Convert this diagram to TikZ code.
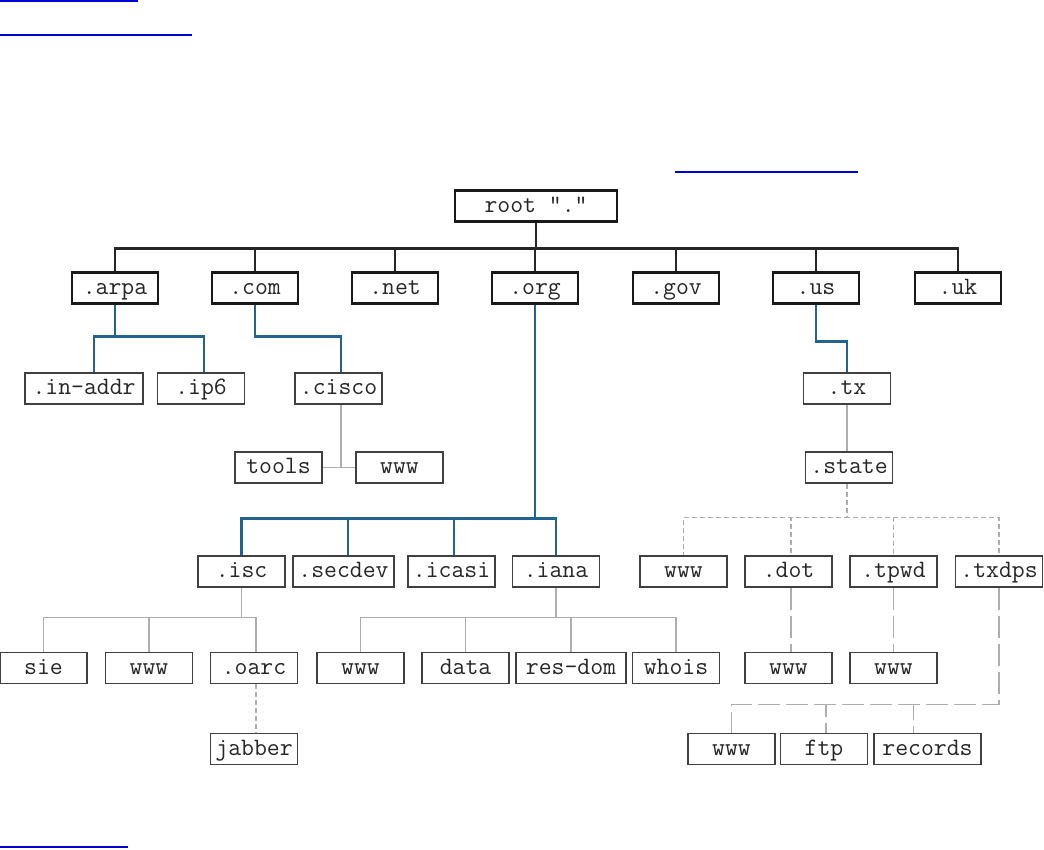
\documentclass[tikz,border=0pt]{standalone}
\usepackage{fontspec}
\definecolor{bleu}{RGB}{36,99,143}
\definecolor{lien}{RGB}{0,0,215}

\begin{document}
\begin{tikzpicture}[x=1pt, y=-1pt]
% définition des styles
\tikzstyle{racine}=[rectangle, draw=black!90, fill=white, line width=2.6pt, minimum width=86pt, minimum height=31pt, inner xsep=3pt, inner ysep=0pt, text height=15pt, text depth=3pt, text=black!85, font=\ttfamily\fontsize{25}{27}\selectfont]
\tikzstyle{domaine}=[rectangle, draw=black!75, fill=white, line width=1.5pt, minimum width=87pt, minimum height=31pt, inner xsep=3pt, inner ysep=0pt, text height=15pt, text depth=3pt, text=black!85, font=\ttfamily\fontsize{25}{27}\selectfont]
\tikzstyle{lienN}=[line width=2.6pt, color=black!85]
\tikzstyle{lienB}=[line width=2.6pt, color=bleu]
\tikzstyle{lienG}=[line width=1.4pt, color=black!32]
\tikzstyle{lienP}=[lienG, dash pattern=on 5pt off 3pt]
\tikzstyle{lienL}=[lienG, dash pattern=on 22pt off 6pt]

\useasboundingbox (0,0) rectangle (1044,849);

% les soulignés
\draw[lien, line width=1.6pt] (0,1) -- (138,1);
\draw[lien, line width=1.6pt] (0,35) -- (192,35);
\draw[lien, line width=1.2pt] (675,172) -- (858,172);
\draw[lien, line width=1.6pt] (0,847) -- (128,847);

% la racine et le premier niveau
\node[racine, minimum width=162pt] (root) at (536,206) {root "."};
\node[racine] (arpa) at (115,288) {.arpa};
\node[racine] (com) at (255,288) {.com};
\node[racine] (net) at (395,288) {.net};
\node[racine] (org) at (535,288) {.org};
\node[racine] (gov) at (676,288) {.gov};
\node[racine] (us) at (816,288) {.us};
\node[racine] (uk) at (958,288) {.uk};

% deuxième niveau
\node[domaine, minimum width=118pt] (inaddr) at (84,388.5) {.in-addr};
\node[domaine] (ip6) at (201,388.5) {.ip6};
\node[domaine] (cisco) at (338.5,388.5) {.cisco};
\node[domaine] (tx) at (847,388.5) {.tx};
\node[domaine] (tools) at (278.5,467.5) {tools};
\node[domaine] (ciscowww) at (399.5,467.5) {www};
\node[domaine] (state) at (849,467.5) {.state};

% troisième niveau
\node[domaine] (isc) at (241.5,571.5) {.isc};
\node[domaine, minimum width=101pt] (secdev) at (343.5,571.5) {.secdev};
\node[domaine] (icasi) at (451.5,571.5) {.icasi};
\node[domaine] (iana) at (556,571.5) {.iana};
\node[domaine] (statewww) at (683.5,571.5) {www};
\node[domaine] (dot) at (788.5,571.5) {.dot};
\node[domaine] (tpwd) at (893.5,571.5) {.tpwd};
\node[domaine] (txdps) at (999,571.5) {.txdps};

% quatrième niveau
\node[domaine] (sie) at (43.5,668) {sie};
\node[domaine] (iscwww) at (149,668) {www};
\node[domaine] (oarc) at (254,668) {.oarc};
\node[domaine] (ianawww) at (360.5,668) {www};
\node[domaine] (data) at (465.5,668) {data};
\node[domaine, minimum width=110pt] (resdom) at (571,668) {res-dom};
\node[domaine] (whois) at (676,668) {whois};
\node[domaine] (dotwww) at (788.5,668) {www};
\node[domaine] (tpwdwww) at (893.5,668) {www};

% cinquième niveau
\node[domaine] (jabber) at (254,749) {jabber};
\node[domaine] (txdpswww) at (731.5,749) {www};
\node[domaine] (ftp) at (824,749) {ftp};
\node[domaine, minimum width=107pt] (records) at (927.5,749) {records};

% les traits noirs
\draw[lienN] (root.south) -- ++(0,25.5) -| (arpa.north);
\draw[lienN] (root.south) -- ++(0,25.5) -| (com.north);
\draw[lienN] (root.south) -- ++(0,25.5) -| (net.north);
\draw[lienN] (root.south) -- ++(0,25.5) -| (org.north);
\draw[lienN] (root.south) -- ++(0,25.5) -| (gov.north);
\draw[lienN] (root.south) -- ++(0,25.5) -| (us.north);
\draw[lienN] (root.south) -- ++(0,25.5) -| (uk.north);

% les traits bleus
\draw[lienB] (arpa.south) -- ++(0,31.5) -| ([xshift=10pt]inaddr.north);
\draw[lienB] (arpa.south) -- ++(0,31.5) -| ([xshift=3pt]ip6.north);
\draw[lienB] (com.south) -- ++(0,31.5) -| ([xshift=2.5pt]cisco.north);
\draw[lienB] (us.south) -- ++(0,36.5) -| (tx.north);
\draw[lienB] (org.south) -- ++(0,213.5) -| (isc.north);
\draw[lienB] (org.south) -- ++(0,213.5) -| ([xshift=4.5pt]secdev.north);
\draw[lienB] (org.south) -- ++(0,213.5) -| ([xshift=2.5pt]icasi.north);
\draw[lienB] (org.south) -- ++(0,213.5) -| (iana.north);

% les traits gris
\draw[lienG] ([xshift=2.5pt]cisco.south) |- (tools.east);
\draw[lienG] ([xshift=2.5pt]cisco.south) |- (ciscowww.west);
\draw[lienG] (tx.south) -- (tx.south |- state.north);
\draw[lienG] (isc.south) -- ++(0,29.5) -| (sie.north);
\draw[lienG] (isc.south) -- ++(0,29.5) -| (iscwww.north);
\draw[lienG] (isc.south) -- ++(0,29.5) -| ([xshift=2pt]oarc.north);
\draw[lienG] (iana.south) -- ++(0,29.5) -| (ianawww.north);
\draw[lienG] (iana.south) -- ++(0,29.5) -| (data.north);
\draw[lienG] (iana.south) -- ++(0,29.5) -| (resdom.north);
\draw[lienG] (iana.south) -- ++(0,29.5) -| (whois.north);

% les pointillés
\draw[lienP] ([xshift=-2pt]state.south) -- ++(0,34) -| (statewww.north);
\draw[lienP] ([xshift=-2pt]state.south) -- ++(0,34) -| ([xshift=2.5pt]dot.north);
\draw[lienP] ([xshift=-2pt]state.south) -- ++(0,34) -| (tpwd.north);
\draw[lienP] ([xshift=-2pt]state.south) -- ++(0,34) -| (txdps.north);
\draw[lienP] ([xshift=2pt]oarc.south) -- ([xshift=2pt]jabber.north);
\draw[lienL] ([xshift=2.5pt]dot.south) -- ([xshift=2.5pt]dotwww.north);
\draw[lienL] (tpwd.south) -- (tpwdwww.north);
\draw[lienL] (txdps.south) -- ++(0,116.5) -| (txdpswww.north);
\draw[lienL] (txdps.south) -- ++(0,116.5) -| ([xshift=2pt]ftp.north);
\draw[lienL] (txdps.south) -- ++(0,116.5) -| ([xshift=-14pt]records.north);
\end{tikzpicture}
\end{document}
